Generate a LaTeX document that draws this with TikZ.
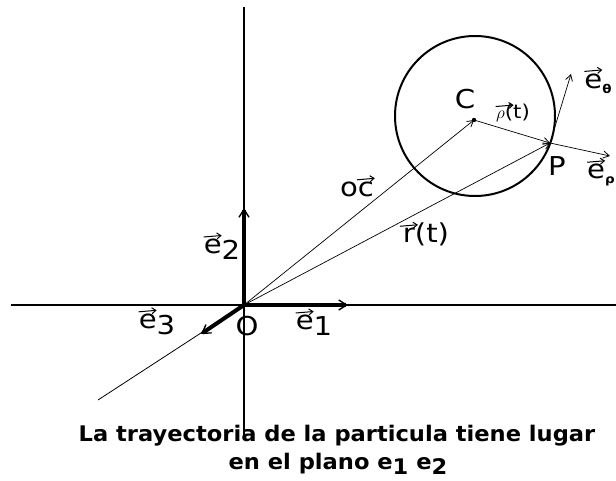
\documentclass[tikz,border=0pt]{standalone}
\usepackage{amsmath}
\usepackage{fontspec}
\setmainfont{DejaVu Sans}
\newfontfamily\lab[FakeStretch=1.12]{DejaVu Sans}
\newfontfamily\capf[FakeStretch=1.05]{DejaVu Sans}
\usetikzlibrary{arrows.meta}
\tikzset{
  axis/.style={line width=1.8pt},
  vec/.style={line width=0.7pt,-{Straight Barb[length=6pt,width=7pt,line width=0.8pt]}},
  basis/.style={line width=4pt,-{Straight Barb[length=8pt,width=10pt,line width=1.4pt]}},
  lbl/.style={inner sep=0pt,font=\lab\fontsize{26}{28}\selectfont},
  smalllbl/.style={inner sep=0pt,font=\lab\fontsize{19}{21}\selectfont},
  captext/.style={inner sep=0pt,font=\capf\bfseries\fontsize{21.5}{28}\selectfont,align=center}
}
% vector arrow drawn over a letter
\newcommand{\vv}[2][18pt]{\setbox0\hbox{#2}\rlap{\makebox[\wd0]{\raisebox{0.64em}{\tikz[baseline=0pt]\draw[line width=1pt,-{Straight Barb[length=4pt,width=6pt,line width=1pt]}] (0pt,0pt)--(#1,1.5pt);}}}#2}
\begin{document}
\begin{tikzpicture}[x=1pt,y=-1pt]
\useasboundingbox (0,0) rectangle (616,481);
% key points
\coordinate (O) at (244,305);
\coordinate (C) at (474,120);
\coordinate (P) at (550,143);
\coordinate (xl) at (11,305);
\coordinate (xr) at (616,305);
\coordinate (yt) at (244,7);
\coordinate (yb) at (244,435);
\coordinate (zb) at (98,400);
\coordinate (e1t) at (348,305);
\coordinate (e2t) at (244,208);
\coordinate (e3t) at (201,334);
\coordinate (erho) at (610,156);
\coordinate (eth) at (571,74);
% axes
\draw[axis] (xl) -- (xr);
\draw[axis] (yt) -- (yb);
\draw[line width=0.8pt] (O) -- (zb);
% circle
\node[draw,circle,line width=2pt,minimum size=160pt,inner sep=0pt] (circ) at (475,116) {};
% basis vectors
\draw[basis] (O) -- (e1t);
\draw[basis] (O) -- (e2t);
\draw[basis] (O) -- (e3t);
% vectors
\draw[vec] (O) -- (C);
\draw[vec] (O) -- (P);
\draw[vec] (C) -- (P);
\draw[vec] (P) -- (erho);
\draw[vec] (P) -- (eth);
\fill (C) circle (2.2pt);
% labels
\node[lbl] (lC) at (465,99) {C};
\node[lbl] (lP) at (557,166) {P};
\node[lbl] (lO) at (247,326) {O};
\node[smalllbl] (lrho) at (513,112) {\vv[18pt]{$\rho$(}t)};
\node[lbl] (lerho) at (601,172) {\vv{e}\raisebox{-5pt}{\fontsize{12}{12}\selectfont\bfseries ρ}};
\node[lbl] (leth) at (598,80) {\vv{e}\raisebox{-5pt}{\fontsize{12}{12}\selectfont\bfseries θ}};
\node[lbl] (loc) at (357,186) {o\vv{c}};
\node[lbl] (lr) at (426,234) {\vv{r}(t)};
\node[lbl] (le2) at (222,246) {\vv{e}\raisebox{-6pt}{2}};
\node[lbl] (le1) at (314,322) {\vv{e}\raisebox{-6pt}{1}};
\node[lbl] (le3) at (157,321) {\vv{e}\raisebox{-6pt}{3}};
\node[captext] (cap1) at (337,436) {La trayectoria de la particula tiene lugar};
\node[captext] (cap2) at (338,464) {en el plano e\raisebox{-5pt}{1} e\raisebox{-5pt}{2}};
\end{tikzpicture}
\end{document}
